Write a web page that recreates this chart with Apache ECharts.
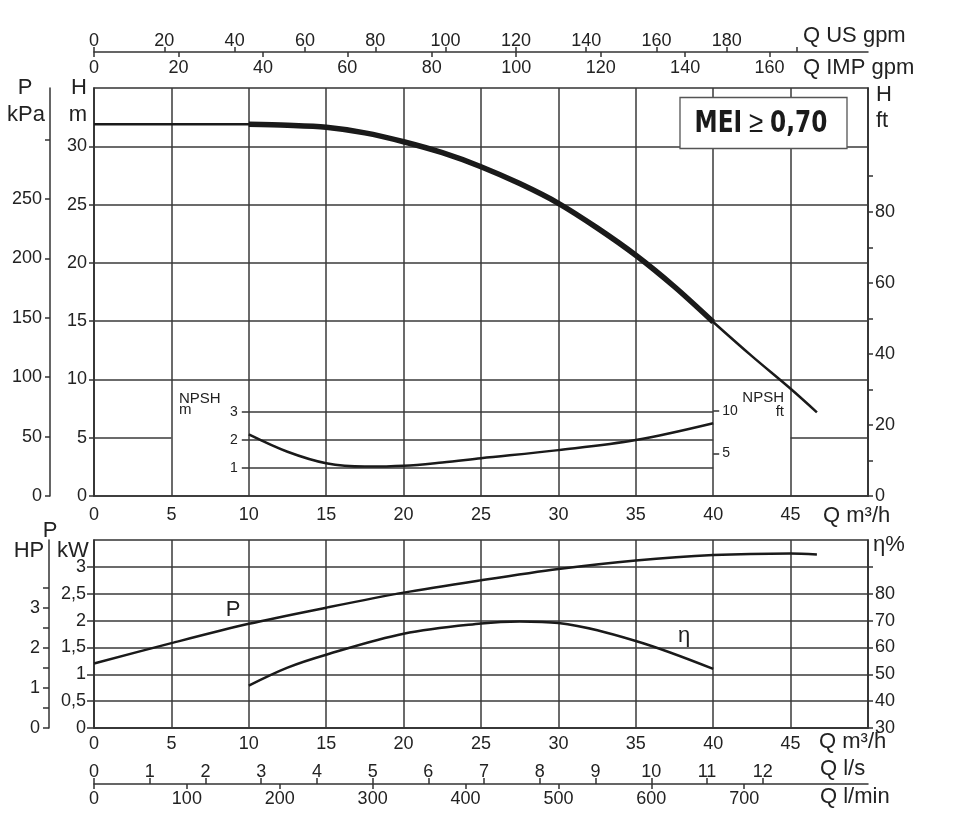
<!DOCTYPE html>
<html>
<head>
<meta charset="utf-8">
<script src="https://cdn.jsdelivr.net/npm/echarts@6/dist/echarts.min.js"></script>
<style>
html,body{margin:0;padding:0;background:#fff;}
#chart{width:961px;height:827px;}
</style>
</head>
<body>
<div id="chart"></div>
<script>
// ---------------- DATA ----------------
// Head curve H (m) vs Q (m3/h)
const qH = [0, 5, 10, 12.5, 15, 17.5, 20, 22.5, 25, 27.5, 30, 32.5, 35, 37.5, 40, 42.5, 45, 46.7];
const hM = [31.9, 31.9, 31.88, 31.8, 31.63, 31.15, 30.39, 29.45, 28.25, 26.8, 25.11, 23.0, 20.65, 17.95, 14.93, 12.0, 9.2, 7.18];
// Thick (recommended) range of head curve
const hThickRange = [10, 40];
// NPSH (m) vs Q
const qNpsh = [10, 12.5, 15, 17.5, 20, 22.5, 25, 30, 35, 40];
const npshM = [2.2, 1.58, 1.17, 1.05, 1.08, 1.2, 1.35, 1.64, 2.0, 2.6];
// Power P (kW) vs Q
const qP = [0, 5, 10, 15, 20, 25, 30, 35, 40, 45, 46.7];
const pKW = [1.2, 1.58, 1.94, 2.24, 2.52, 2.75, 2.96, 3.12, 3.22, 3.25, 3.23];
// Efficiency eta (%) vs Q
const qEta = [10, 12.5, 15, 20, 25, 27.5, 30, 35, 40];
const etaPct = [45.8, 52.5, 57.3, 65.1, 68.9, 69.7, 69.1, 62.4, 52.0];

// Tick values / labels
const qTicks = [0, 5, 10, 15, 20, 25, 30, 35, 40, 45];
const usGpmTicks = [0, 20, 40, 60, 80, 100, 120, 140, 160, 180, 200];
const usGpmLabels = [0, 20, 40, 60, 80, 100, 120, 140, 160, 180];
const impGpmTicks = [0, 20, 40, 60, 80, 100, 120, 140, 160];
const hMTicks = [0, 5, 10, 15, 20, 25, 30];
const kPaTicks = [0, 50, 100, 150, 200, 250, 300];
const kPaLabels = [0, 50, 100, 150, 200, 250];
const hFtTicks = [0, 10, 20, 30, 40, 50, 60, 70, 80, 90];
const hFtLabels = [0, 20, 40, 60, 80];
const npshMTicks = [1, 2, 3];
const npshFtTicks = [5, 10];
const kWTicks = [0, 0.5, 1, 1.5, 2, 2.5, 3];
const hpTicks = [0, 0.5, 1, 1.5, 2, 2.5, 3, 3.5];
const hpLabels = [0, 1, 2, 3];
const etaTicks = [30, 40, 50, 60, 70, 80, 90];
const etaLabels = [30, 40, 50, 60, 70, 80];
const lsTicks = [0, 1, 2, 3, 4, 5, 6, 7, 8, 9, 10, 11, 12];
const lminTicks = [0, 100, 200, 300, 400, 500, 600, 700];

// Grid-line levels in the head chart
const hGridFull = [10, 15, 20, 25, 30];
const hGridPartial = {level: 5, spans: [[0, 5], [45, 50]]};
const npshGrid = [1, 2, 3];
const npshGridSpan = [10, 40];

// Axis ranges / unit conversions
const Q_MAX = 50, H_MAX = 35, KW_MAX = 3.5;
const US_GPM = 4.402868, IMP_GPM = 3.666154, KPA_PER_M = 9.80665, M_PER_FT = 0.3048, KW_PER_HP = 0.7457;
const NPSH_RATIO = 2.4; // NPSH scale is 2.4x the H scale

// ---------------- STYLE ----------------
const FONT = "'Liberation Sans', Arial, Helvetica, sans-serif";
const TXT = '#222';
const GRID = '#3a3a3a';
const GL = 1.5;

const lab = (extra) => Object.assign({color: TXT, fontSize: 18, fontFamily: FONT}, extra || {});
const line = {show: true, onZero: false, lineStyle: {color: '#333', width: 1.5}};
const noLine = {show: false, onZero: false};
const tick = (len, vals, inside) => ({show: true, length: len, inside: !!inside, customValues: vals, lineStyle: {color: '#333', width: 1.5}});
const comma = v => String(v).replace('.', ',');

const zip = (a, b) => a.map((v, i) => [v, b[i]]);

const chart = echarts.init(document.getElementById('chart'), null, {renderer: 'canvas'});

const L = 94, W = 774;

const option = {
  animation: false,
  backgroundColor: '#fff',
  grid: [
    {left: L, top: 88, width: W, height: 408, show: true, borderColor: '#333', borderWidth: 1.5, containLabel: false},
    {left: L, top: 540, width: W, height: 188, show: true, borderColor: '#333', borderWidth: 1.5, containLabel: false}
  ],
  xAxis: [
    {gridIndex: 0, type: 'value', position: 'bottom', min: 0, max: Q_MAX, interval: 5,
      axisLine: line, axisTick: {show: false},
      axisLabel: lab({customValues: qTicks, margin: 10}),
      splitLine: {show: true, lineStyle: {color: GRID, width: GL}}},
    {gridIndex: 0, type: 'value', position: 'top', offset: 36, min: 0, max: Q_MAX * US_GPM,
      axisLine: line, axisTick: tick(5, usGpmTicks),
      axisLabel: lab({customValues: usGpmLabels, margin: 2}), splitLine: {show: false}},
    {gridIndex: 0, type: 'value', position: 'top', offset: 36, min: 0, max: Q_MAX * IMP_GPM,
      axisLine: noLine, axisTick: tick(5, impGpmTicks, true),
      axisLabel: lab({customValues: impGpmTicks, inside: true, margin: 7}), splitLine: {show: false}},
    {gridIndex: 1, type: 'value', position: 'bottom', min: 0, max: Q_MAX, interval: 5,
      axisLine: line, axisTick: {show: false},
      axisLabel: lab({customValues: qTicks, margin: 7}),
      splitLine: {show: true, lineStyle: {color: GRID, width: GL}}},
    {gridIndex: 1, type: 'value', position: 'bottom', offset: 56, min: 0, max: Q_MAX / 3.6,
      axisLine: line, axisTick: tick(6, lsTicks, true),
      axisLabel: lab({customValues: lsTicks, inside: true, margin: 3}), splitLine: {show: false}},
    {gridIndex: 1, type: 'value', position: 'bottom', offset: 56, min: 0, max: Q_MAX * 1000 / 60,
      axisLine: noLine, axisTick: tick(5, lminTicks),
      axisLabel: lab({customValues: lminTicks, margin: 6}), splitLine: {show: false}}
  ],
  yAxis: [
    {gridIndex: 0, type: 'value', position: 'left', min: 0, max: H_MAX,
      axisLine: line, axisTick: tick(5, hMTicks),
      axisLabel: lab({customValues: hMTicks, margin: 7}), splitLine: {show: false}},
    {gridIndex: 0, type: 'value', position: 'left', offset: 44, min: 0, max: H_MAX * KPA_PER_M,
      axisLine: line, axisTick: tick(5, kPaTicks),
      axisLabel: lab({customValues: kPaLabels, margin: 8}), splitLine: {show: false}},
    {gridIndex: 0, type: 'value', position: 'right', min: 0, max: H_MAX / M_PER_FT,
      axisLine: line, axisTick: tick(5, hFtTicks),
      axisLabel: lab({customValues: hFtLabels, margin: 7}), splitLine: {show: false}},
    {gridIndex: 0, type: 'value', position: 'left', offset: -(W * 10 / Q_MAX), min: 0, max: H_MAX / NPSH_RATIO,
      axisLine: noLine, axisTick: tick(7, npshMTicks),
      axisLabel: lab({customValues: npshMTicks, margin: 11, fontSize: 14}), splitLine: {show: false}},
    {gridIndex: 0, type: 'value', position: 'right', offset: -(W * 10 / Q_MAX), min: 0, max: H_MAX / NPSH_RATIO / M_PER_FT,
      axisLine: noLine, axisTick: tick(6, npshFtTicks),
      axisLabel: lab({customValues: npshFtTicks, margin: 9, fontSize: 14}), splitLine: {show: false}},
    {gridIndex: 1, type: 'value', position: 'left', min: 0, max: KW_MAX, interval: 0.5,
      axisLine: line, axisTick: tick(7, kWTicks),
      axisLabel: lab({customValues: kWTicks, margin: 8, formatter: comma}),
      splitLine: {show: true, lineStyle: {color: GRID, width: GL}}},
    {gridIndex: 1, type: 'value', position: 'left', offset: 45, min: 0, max: KW_MAX / KW_PER_HP,
      axisLine: line, axisTick: tick(6, hpTicks),
      axisLabel: lab({customValues: hpLabels, margin: 9}), splitLine: {show: false}},
    {gridIndex: 1, type: 'value', position: 'right', min: 30, max: 100,
      axisLine: line, axisTick: tick(5, etaTicks),
      axisLabel: lab({customValues: etaLabels, margin: 7}), splitLine: {show: false}}
  ],
  series: [
    {type: 'lines', coordinateSystem: 'cartesian2d', xAxisIndex: 0, yAxisIndex: 0, silent: true, z: 1,
      lineStyle: {color: GRID, width: GL, opacity: 1},
      data: hGridFull.map(v => ({coords: [[0, v], [Q_MAX, v]]}))
        .concat(hGridPartial.spans.map(s => ({coords: [[s[0], hGridPartial.level], [s[1], hGridPartial.level]]})))},
    {type: 'lines', coordinateSystem: 'cartesian2d', xAxisIndex: 0, yAxisIndex: 3, silent: true, z: 1,
      lineStyle: {color: GRID, width: GL, opacity: 1},
      data: npshGrid.map(v => ({coords: [[npshGridSpan[0], v], [npshGridSpan[1], v]]}))},
    {name: 'H', type: 'line', xAxisIndex: 0, yAxisIndex: 0, data: zip(qH, hM), showSymbol: false, smooth: 0.3,
      z: 5, silent: true, lineStyle: {color: '#1a1a1a', width: 2.5}},
    {name: 'H thick', type: 'line', xAxisIndex: 0, yAxisIndex: 0,
      data: zip(qH, hM).filter(p => p[0] >= hThickRange[0] && p[0] <= hThickRange[1]),
      showSymbol: false, smooth: 0.3, z: 6, silent: true, lineStyle: {color: '#1a1a1a', width: 5.5, cap: 'butt'}},
    {name: 'NPSH', type: 'line', xAxisIndex: 0, yAxisIndex: 3, data: zip(qNpsh, npshM), showSymbol: false, smooth: 0.35,
      z: 5, silent: true, lineStyle: {color: '#1a1a1a', width: 2.5}},
    {name: 'P', type: 'line', xAxisIndex: 3, yAxisIndex: 5, data: zip(qP, pKW), showSymbol: false, smooth: 0.3,
      z: 5, silent: true, lineStyle: {color: '#1a1a1a', width: 2.5}},
    {name: 'eta', type: 'line', xAxisIndex: 3, yAxisIndex: 7, data: zip(qEta, etaPct), showSymbol: false, smooth: 0.35,
      z: 5, silent: true, lineStyle: {color: '#1a1a1a', width: 2.5}}
  ],
  graphic: []
};

const T = (text, x, y, size, align, extra) => Object.assign({
  type: 'text', x: x, y: y, silent: true, z: 100,
  style: Object.assign({text: text, fill: TXT, font: size + 'px ' + FONT, align: align || 'left', verticalAlign: 'middle'}, extra || {})
});

option.graphic = [
  T('P', 25, 88, 22, 'center'),
  T('kPa', 26, 114.5, 22, 'center'),
  T('H', 79, 88, 22, 'center'),
  T('m', 78, 114.5, 22, 'center'),
  T('H', 876, 95, 22, 'left'),
  T('ft', 876, 121, 22, 'left'),
  T('Q US gpm', 803, 36, 22, 'left'),
  T('Q IMP gpm', 803, 67.5, 22, 'left'),
  T('Q m³/h', 823, 516, 22, 'left'),
  T('Q m³/h', 819, 741.5, 22, 'left'),
  T('Q l/s', 820, 769, 22, 'left'),
  T('Q l/min', 820, 797, 22, 'left'),
  T('η%', 873, 545, 22, 'left'),
  T('P', 50, 530.5, 22, 'center'),
  T('HP', 29, 550.5, 22, 'center'),
  T('kW', 73, 550.5, 22, 'center'),
  T('P', 233, 610, 22, 'center'),
  T('η', 684, 636, 22, 'center'),
  T('NPSH', 179, 399, 15, 'left'),
  T('m', 179, 410, 15, 'left'),
  T('NPSH', 784, 398, 15, 'right'),
  T('ft', 784, 412, 15, 'right'),
  {type: 'rect', z: 90, silent: true, shape: {x: 680, y: 97.5, width: 167, height: 51},
    style: {fill: '#fff', stroke: '#555', lineWidth: 1.3}},
  {type: 'text', z: 100, silent: true, x: 761, y: 124, scaleX: 0.86,
    style: {text: '{b|MEI}{n|≥}{b|0,70}', align: 'center', verticalAlign: 'middle',
      rich: {
        b: {font: "bold 30px 'Liberation Sans Narrow', 'DejaVu Sans Condensed', 'Arial Narrow', sans-serif", fill: '#1a1a1a'},
        n: {font: "30px 'Liberation Sans', 'DejaVu Sans', sans-serif", fill: '#1a1a1a', padding: [0, 8, 0, 8]}
      }}}
];

chart.setOption(option);
</script>
</body>
</html>
